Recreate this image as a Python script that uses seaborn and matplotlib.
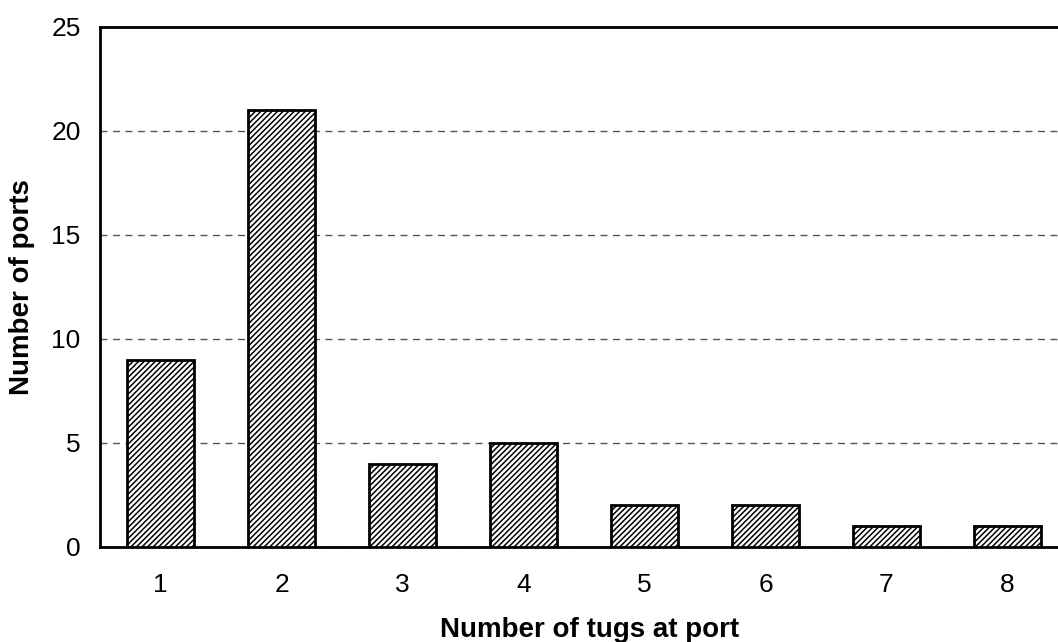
import matplotlib
matplotlib.use("Agg")
import matplotlib.pyplot as plt
import pandas as pd
import seaborn as sns

tugs = ["1", "2", "3", "4", "5", "6", "7", "8"]
ports = [9, 21, 4, 5, 2, 2, 1, 1]
y_ticks = [0, 5, 10, 15, 20, 25]

sns.set_theme(style="white")
plt.rcParams["font.family"] = ["Liberation Sans", "DejaVu Sans"]
plt.rcParams["hatch.linewidth"] = 1.1
plt.rcParams["hatch.color"] = "#222222"
plt.rcParams["text.color"] = "black"
plt.rcParams["axes.labelcolor"] = "black"
plt.rcParams["xtick.color"] = "black"
plt.rcParams["ytick.color"] = "black"

df = pd.DataFrame({"tugs": tugs, "ports": ports})

fig = plt.figure(figsize=(10.58, 6.42), dpi=100)
W, H = 1058, 642
ax = fig.add_axes([100 / W, 1 - 547 / H, (1068 - 100) / W, (547 - 27) / H])

sns.barplot(data=df, x="tugs", y="ports", color="white", width=0.55,
            edgecolor="black", linewidth=2, ax=ax, zorder=3)
for bar in ax.patches:
    bar.set_hatch("//////")
    bar.set_facecolor("white")

ax.set_ylim(0, 25)
ax.set_xlim(-0.5, 7.5)
ax.set_yticks(y_ticks)
ax.yaxis.grid(True, linestyle=(0, (5, 4)), color="#555555", linewidth=1)
ax.set_axisbelow(True)
for s in ["left", "bottom", "top"]:
    ax.spines[s].set_color("black")
    ax.spines[s].set_linewidth(2)
ax.spines["right"].set_visible(False)

ax.tick_params(axis="y", length=0, labelsize=19, pad=14)
ax.tick_params(axis="x", length=0, labelsize=19, pad=19)
ax.set_xlabel("Number of tugs at port", fontsize=20, fontweight="bold", va="baseline")
ax.set_ylabel("Number of ports", fontsize=20, fontweight="bold", va="center")
ax.xaxis.set_label_coords((590 - 100) / 968, (547 - 637) / 520)
ax.yaxis.set_label_coords((22 - 100) / 968, (547 - 287) / 520)

fig.savefig("out.png", dpi=100)
